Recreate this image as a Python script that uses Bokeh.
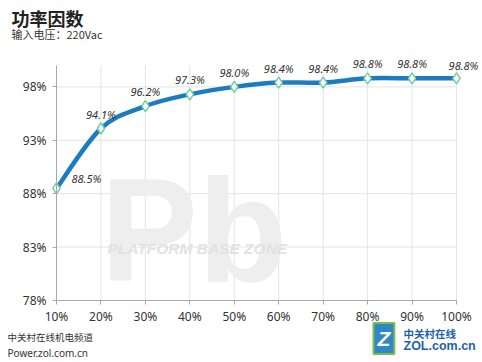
import numpy as np
from bokeh.plotting import figure
from bokeh.models import ColumnDataSource, FixedTicker, PrintfTickFormatter, Label, Range1d
from bokeh.core.properties import value
from bokeh.embed import file_html
from bokeh.resources import INLINE

# ---- data ----
load = [10, 20, 30, 40, 50, 60, 70, 80, 90, 100]
power_factor = [88.5, 94.1, 96.2, 97.3, 98.0, 98.4, 98.4, 98.8, 98.8, 98.8]
point_labels = ["88.5%", "94.1%", "96.2%", "97.3%", "98.0%", "98.4%", "98.4%", "98.8%", "98.8%", "98.8%"]
y_ticks = [78, 83, 88, 93, 98]
x_ticks = load
y_min, y_max = 78, 100
x_min, x_max = 10, 100

title = "功率因数"
subtitle = "输入电压：220Vac"
footer1 = "中关村在线机电频道"
footer2 = "Power.zol.com.cn"
brand1 = "中关村在线"
brand2 = "ZOL.com.cn"

# ---- layout: frame covers the whole canvas, axes drawn at fixed locations ----
W, H = 482, 362
px_left, px_right = 56, 456      # pixel columns of x_min / x_max
px_bottom, px_top = 300, 65      # pixel rows of y_min / y_max
sx = (px_right - px_left) / (x_max - x_min)
sy = (px_bottom - px_top) / (y_max - y_min)
xr = Range1d(x_min - px_left / sx, x_max + (W - px_right) / sx)
yr = Range1d(y_min - (H - px_bottom) / sy, y_max + px_top / sy)

p = figure(width=W, height=H, output_backend="svg", toolbar_location=None,
           x_range=xr, y_range=yr,
           min_border_left=0, min_border_right=0, min_border_top=0, min_border_bottom=0)
p.outline_line_color = None
p.background_fill_color = "white"
p.border_fill_color = "white"
p.xgrid.visible = False
p.ygrid.visible = False

TXT = "#333333"

# watermark
p.add_layout(Label(x=100, y=H - 230, x_units="screen", y_units="screen", text="Pb",
                   text_font="Liberation Sans", text_font_style="bold",
                   text_font_size="146px", text_color="#eeeeee", text_baseline="alphabetic",
                   level="underlay"))
p.add_layout(Label(x=107, y=H - 248, x_units="screen", y_units="screen", text="PLATFORM BASE ZONE",
                   text_font="Liberation Sans", text_font_style="bold italic",
                   text_font_size="15.5px", text_color="#e2e2e2", text_baseline="middle",
                   level="underlay"))

# grid lines (from tick values)
p.segment(x0=x_ticks, x1=x_ticks, y0=[y_min] * len(x_ticks), y1=[y_max] * len(x_ticks),
          line_color="#e4e4e4", line_width=1, level="underlay")
p.segment(x0=[x_min] * len(y_ticks), x1=[x_max] * len(y_ticks), y0=y_ticks, y1=y_ticks,
          line_color="#e4e4e4", line_width=1, level="underlay")

# axes
for ax in (p.xaxis[0], p.yaxis[0]):
    ax.axis_line_color = "#a8a8a8"
    ax.major_tick_line_color = "#a8a8a8"
    ax.minor_tick_line_color = None
    ax.major_tick_in = 0
    ax.major_tick_out = 4
    ax.major_label_text_font = "Noto Sans"
    ax.major_label_text_font_size = "12px"
    ax.major_label_text_color = TXT
    ax.formatter = PrintfTickFormatter(format="%d%%")
p.xaxis[0].ticker = FixedTicker(ticks=x_ticks)
p.yaxis[0].ticker = FixedTicker(ticks=y_ticks)
p.xaxis[0].fixed_location = y_min
p.yaxis[0].fixed_location = x_min
p.xaxis[0].bounds = (x_min, x_max)
p.yaxis[0].bounds = (y_min, y_max)
p.xaxis[0].major_label_standoff = 3
p.yaxis[0].major_label_standoff = 6

# smooth curve via Catmull-Rom beziers computed from the data
xs = np.array(load, dtype=float)
ys = np.array(power_factor, dtype=float)
n = len(xs)
x0, y0, x1, y1, cx0, cy0, cx1, cy1 = ([] for _ in range(8))
for i in range(n - 1):
    xp, yp = (xs[i - 1], ys[i - 1]) if i > 0 else (xs[i], ys[i])
    xn, yn = (xs[i + 2], ys[i + 2]) if i + 2 < n else (xs[i + 1], ys[i + 1])
    x0.append(xs[i]); y0.append(ys[i]); x1.append(xs[i + 1]); y1.append(ys[i + 1])
    cx0.append(xs[i] + (xs[i + 1] - xp) / 6); cy0.append(ys[i] + (ys[i + 1] - yp) / 6)
    cx1.append(xs[i + 1] - (xn - xs[i]) / 6); cy1.append(ys[i + 1] - (yn - ys[i]) / 6)
bsrc = ColumnDataSource(dict(x0=x0, y0=y0, x1=x1, y1=y1, cx0=cx0, cy0=cy0, cx1=cx1, cy1=cy1))
p.bezier(x0="x0", y0="y0", x1="x1", y1="y1", cx0="cx0", cy0="cy0", cx1="cx1", cy1="cy1",
         source=bsrc, line_color="#1b7dc0", line_width=4.5, line_cap="round")

src = ColumnDataSource(dict(x=load, y=power_factor, label=point_labels))
p.scatter("x", "y", source=src, marker="diamond", size=11, fill_color="white",
          line_color="#6fcf9f", line_width=1.5)

# point labels
lab_font = dict(text_font=value("Noto Sans"), text_font_style="italic",
                text_font_size="11px", text_color=TXT)
lab_src = ColumnDataSource(dict(x=load[1:-1], y=power_factor[1:-1], label=point_labels[1:-1]))
p.text("x", "y", text="label", source=lab_src, text_align="center", text_baseline="bottom",
       y_offset=-7, **lab_font)
first_src = ColumnDataSource(dict(x=load[:1], y=power_factor[:1], label=point_labels[:1]))
p.text("x", "y", text="label", source=first_src, text_align="left", text_baseline="middle",
       x_offset=15, y_offset=-10, **lab_font)
last_src = ColumnDataSource(dict(x=load[-1:], y=power_factor[-1:], label=point_labels[-1:]))
p.text("x", "y", text="label", source=last_src, text_align="center", text_baseline="bottom",
       x_offset=7, y_offset=-5, **lab_font)

# titles / footers (screen units measured from the frame's bottom-left)
def lab(x, y_img, text, font, size, style="normal", color=TXT, **kw):
    p.add_layout(Label(x=x, y=H - y_img, x_units="screen", y_units="screen", text=text,
                       text_font=font, text_font_style=style, text_font_size=size,
                       text_color=color, text_baseline="middle", **kw))

lab(11, 17, title, "Noto Sans CJK SC", "18px", "bold", "#222222")
lab(11, 33, subtitle, "Noto Sans CJK SC", "11px")
lab(7, 336, footer1, "Noto Sans CJK SC", "9.5px")
lab(7, 352, footer2, "Noto Sans", "10px")
lab(403, 333, brand1, "Noto Sans CJK SC", "10.5px", "bold", "#1f5fae")
lab(403, 345, brand2, "Liberation Sans", "12.5px", "bold", "#1f5fae")
lab(373, 338, "Z", "Liberation Sans", "21px", "bold italic", "white",
    background_fill_color="#2f86c9", border_line_color="#7cbf45", border_line_width=2,
    padding=4)

open("out.html", "w").write(file_html(p, INLINE))
